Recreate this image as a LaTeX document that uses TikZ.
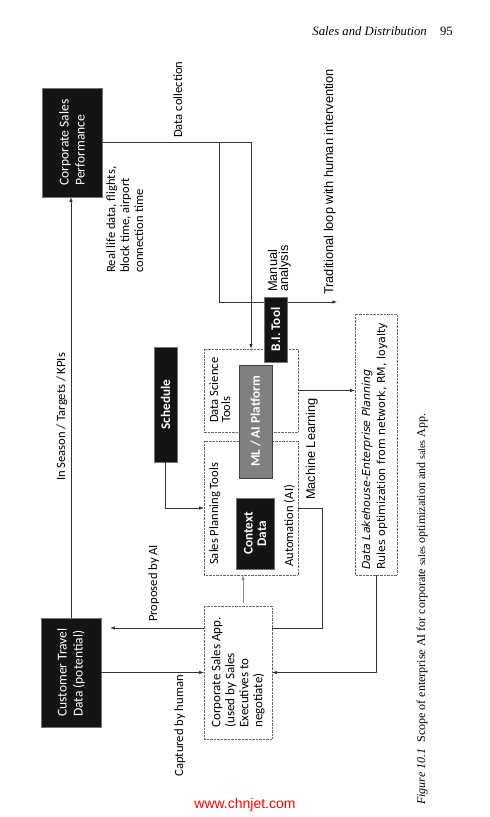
\documentclass[tikz,border=0pt]{standalone}
\usepackage{fontspec}
\setmainfont{Carlito}
\newfontfamily\arialfont{Liberation Sans}
\newfontfamily\tahomafont{DejaVu Sans}
\newfontfamily\timesfont{Liberation Serif}
\usetikzlibrary{shadows}
\begin{document}
\begin{tikzpicture}[x=1pt,y=1pt]
            \useasboundingbox (0,0) rectangle (490,817);
            \tikzstyle{every node}=[inner sep=0pt,font=\fontsize{12.6}{15}\selectfont]
            \tikzstyle{blackbox}=[draw=black!55,fill=black!92,text=white,drop shadow={opacity=0.3,shadow xshift=1.2pt,shadow yshift=-1.2pt}]
            \tikzstyle{bigbox}=[blackbox,minimum width=109pt,minimum height=60pt,align=left,font=\fontsize{13.5}{16}\selectfont]
            \tikzstyle{boldbox}=[blackbox,font=\bfseries\fontsize{13.2}{13.5}\selectfont,align=center]
            \tikzstyle{dotbox}=[draw=black!60,densely dotted]
            \tikzstyle{conn}=[draw=black!80,line width=0.6pt]
            \tikzstyle{arial}=[font=\arialfont\fontsize{12.8}{11}\selectfont]
            \tikzstyle{tahoma}=[font=\tahomafont\fontsize{11}{15}\selectfont]
            \tikzstyle{tahomait}=[font=\tahomafont\itshape\fontsize{11}{15}\selectfont]
            \draw (427,781) node[anchor=base east,font=\timesfont\itshape\fontsize{12.7}{14}\selectfont] (head) {Sales and Distribution};
            \draw (453,781) node[anchor=base east,font=\timesfont\fontsize{12.7}{14}\selectfont] (pageno) {95};
            \draw (245,12) node[text=red,font=\arialfont\fontsize{14}{16}\selectfont] (wmark) {www.chnjet.com};
            \begin{scope}[xshift=490pt,rotate=90,transform shape]
            \coordinate (ai) at (189,168);
            \coordinate (tl) at (515,153);
            \draw (674.5,418) node[bigbox] (csp) {Corporate Sales\\Performance};
            \draw (144.5,419) node[bigbox] (ctd) {Customer Travel\\Data (potential)};
            \draw (426.5,239) node[dotbox,minimum width=83pt,minimum height=94pt] (dst) {};
            \draw (309,239) node[dotbox,minimum width=134pt,minimum height=94pt] (spt) {};
            \draw (144.5,252) node[dotbox,minimum width=133pt,minimum height=68pt,align=left,font=\fontsize{13}{14}\selectfont] (csa) {Corporate Sales App.\\(used by Sales\\Executives to\\negotiate)};
            \draw (372.5,114) node[dotbox,minimum width=261pt,minimum height=42pt] (dlh) {};
            \draw[conn,-latex] (ctd.east) -- (ctd.east -| csp.west);
            \draw[conn,-latex] (csp.south) |- (dst.east);
            \draw[conn,-latex] (csp.south |- 0,271) -| (tl);
            \draw[conn,-latex] (dst.south) -- (dst.south |- dlh.north);
            \draw[conn] (spt.south) |- (ai) -- (ai |- csa.south);
            \draw[conn,-latex,shorten >=9pt] (ai |- csa.north) -- (ai |- ctd.south);
            \draw[conn,-latex] (ctd.south) -- (ctd.south |- csa.north);
            \draw[conn,-latex] (dlh.west) -| (ctd.south |- csa.south);
            \draw[conn,draw=black!45,-latex,shorten <=3pt] (csa.east |- 0,247) -- (spt.west |- 0,247);
            \draw (412.5,324.5) node[boldbox,minimum width=115pt,minimum height=23pt] (sched) {Schedule};
            \draw[conn,-latex] (sched.west) -| (spt.north);
            \draw (395.5,234.5) node[boldbox,fill=black!50,draw=black!75,minimum width=113pt,minimum height=33pt] (mlai) {ML / AI Platform};
            \draw (283.5,235) node[boldbox,minimum width=71pt,minimum height=38pt] (ctx) {Context\\Data};
            \draw (487.5,214.5) node[boldbox,minimum width=65pt,minimum height=23pt] (bitool) {B.I. Tool};
            \draw (394,272) node[anchor=base west] (dsttxt) {Data Science};
            \draw (394,260) node[anchor=base west] (dsttxt2) {Tools};
            \draw (252,272) node[anchor=base west] (spttxt) {Sales Planning Tools};
            \draw (250,197) node[anchor=base west] (auto) {Automation (AI)};
            \draw (247,120) node[tahomait,anchor=base west] (dlhtxt) {Data Lakehouse-Enterprise Planning};
            \draw (247,105) node[tahoma,anchor=base west] (dlhtxt2) {Rules optimization from network, RM, loyalty};
            \draw (679,308) node[anchor=base west] (dcoll) {Data collection};
            \draw (544,375) node[anchor=base west] (real1) {Real life data, flights,};
            \draw (544,361) node[anchor=base west] (real2) {block time, airport};
            \draw (544,347) node[anchor=base west] (real3) {connection time};
            \draw (336,425) node[anchor=base west] (kpi) {In Season / Targets / KPIs};
            \draw (522,157) node[arial,anchor=base west] (trad) {Traditional loop with human intervention};
            \draw (525,213) node[arial,anchor=base west] (man1) {Manual};
            \draw (525,202) node[arial,anchor=base west] (man2) {analysis};
            \draw (419,175) node[arial,anchor=base east] (mlearn) {Machine Learning};
            \draw (195,333) node[anchor=base west] (prop) {Proposed by AI};
            \draw (142,307) node[anchor=base east] (capt) {Captured by human};
            \draw (12,65) node[anchor=base west,font=\timesfont\fontsize{12}{14}\selectfont] (caption) {{\itshape Figure 10.1}\enspace Scope of enterprise AI for corporate {\fontsize{10}{12}\selectfont sales} optimization and {\fontsize{10}{12}\selectfont sales} App.};
            \end{scope}
        \end{tikzpicture}
\end{document}
